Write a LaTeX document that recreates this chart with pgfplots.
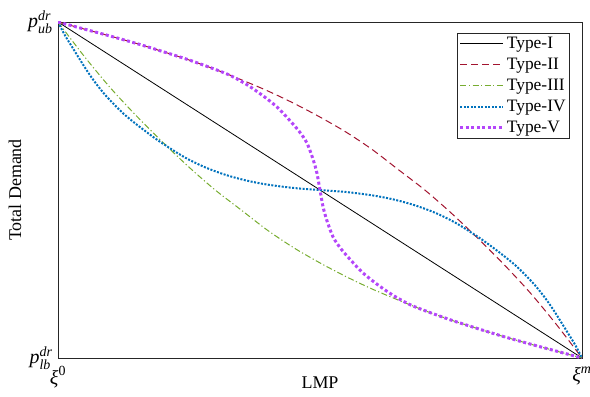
\documentclass[border=0pt]{standalone}
\usepackage{amsmath}
\usepackage{fontspec}
\setmainfont{Liberation Serif}
\usepackage{pgfplots}
\pgfplotsset{compat=1.18}
\definecolor{cII}{RGB}{162,20,47}
\definecolor{cIII}{RGB}{119,172,48}
\definecolor{cIV}{RGB}{0,114,189}
\definecolor{cV}{RGB}{180,70,250}
\begin{document}
\begin{tikzpicture}
\begin{axis}[
  scale only axis, width=524bp, height=336bp,
  xmin=0, xmax=1, ymin=0, ymax=1,
  xtick={0,1}, xticklabels={{$\textit{ξ}^{\text{0}}$},{$\textit{ξ}^{\textit{m}}$}},
  ytick={0,1}, yticklabels={{$\textit{p}_{\textit{lb}}^{\textit{dr}}$},{$\textit{p}_{\textit{ub}}^{\textit{dr}}$}},
  major tick length=0pt,
  tick label style={font=\fontsize{20}{24}\selectfont},
  xticklabel style={yshift=-5bp},
  yticklabel style={xshift=-2bp},
  label style={font=\fontsize{18}{22}\selectfont},
  xlabel={LMP}, ylabel={Total Demand},
  xlabel style={at={(axis description cs:0.5,-0.074)}, anchor=center},
  ylabel style={at={(axis description cs:-0.082,0.5)}, anchor=center},
  axis line style={line width=0.8bp, black!85},
  legend style={at={(0.977,0.967)}, anchor=north east, font=\fontsize{17.5}{21}\selectfont,
    draw=black!85, line width=0.6bp, inner sep=2bp, row sep=4bp, cells={anchor=west}},
  legend image code/.code={\draw[#1] (0bp,0bp) -- (43bp,0bp);},
]
\coordinate (ll) at (rel axis cs:0,0);
\coordinate (ur) at (rel axis cs:1,1);
\addplot[black, line width=0.8bp] coordinates {(0,1) (1,0)};
\addlegendentry{Type-I}
\addplot[cII, line width=1bp, dash pattern=on 7bp off 4bp, smooth] coordinates {
(0,1) (0.05,0.979) (0.1,0.958) (0.15,0.936) (0.2,0.912) (0.25,0.887) (0.3,0.859)
(0.35,0.828) (0.4,0.795) (0.45,0.758) (0.5,0.717) (0.55,0.672) (0.6,0.620)
(0.65,0.560) (0.7,0.500) (0.75,0.432) (0.8,0.358) (0.85,0.280) (0.9,0.196)
(0.95,0.102) (1,0)};
\addlegendentry{Type-II}
\addplot[cIII, line width=1bp, dash pattern=on 6bp off 2.5bp on 1.2bp off 2.5bp, smooth] coordinates {
(0,1) (0.05,0.898) (0.1,0.804) (0.15,0.720) (0.2,0.642) (0.25,0.568) (0.3,0.500)
(0.35,0.440) (0.4,0.380) (0.45,0.328) (0.5,0.283) (0.55,0.242) (0.6,0.205)
(0.65,0.172) (0.7,0.141) (0.75,0.113) (0.8,0.088) (0.85,0.064) (0.9,0.042)
(0.95,0.021) (1,0)};
\addlegendentry{Type-III}
\addplot[cIV, line width=2bp, dash pattern=on 2bp off 1.5bp, smooth] coordinates {
(0,1) (0.013,0.961) (0.03,0.918) (0.052,0.863) (0.07,0.822) (0.09,0.783)
(0.11,0.750) (0.128,0.723) (0.15,0.695) (0.166,0.676) (0.185,0.654) (0.204,0.634)
(0.242,0.597) (0.28,0.568) (0.32,0.545) (0.36,0.528) (0.4,0.516) (0.45,0.506)
(0.5,0.5) (0.55,0.494) (0.6,0.484) (0.64,0.472) (0.68,0.455) (0.72,0.432)
(0.758,0.403) (0.796,0.366) (0.815,0.346) (0.834,0.324) (0.85,0.305) (0.872,0.277)
(0.89,0.250) (0.91,0.217) (0.93,0.178) (0.948,0.137) (0.97,0.082) (0.987,0.039) (1,0)};
\addlegendentry{Type-IV}
\addplot[cV, line width=3bp, dash pattern=on 3bp off 2.5bp, smooth] coordinates {
(0,1) (0.05,0.979) (0.1,0.958) (0.15,0.936) (0.2,0.912) (0.25,0.887) (0.3,0.859)
(0.33,0.840) (0.36,0.814) (0.38,0.793) (0.40,0.770) (0.42,0.744) (0.44,0.711)
(0.46,0.675) (0.475,0.640) (0.487,0.590) (0.494,0.551) (0.5,0.5)
(0.506,0.449) (0.513,0.410) (0.525,0.360) (0.54,0.325) (0.56,0.289) (0.58,0.256)
(0.6,0.230) (0.62,0.207) (0.64,0.186) (0.67,0.160) (0.7,0.141) (0.75,0.113)
(0.8,0.088) (0.85,0.064) (0.9,0.042) (0.95,0.021) (1,0)};
\addlegendentry{Type-V}
\end{axis}
\pgfresetboundingbox
\path ([shift={(-58bp,-39bp)}]ll) rectangle ([shift={(8bp,22bp)}]ur);
\end{tikzpicture}
\end{document}
